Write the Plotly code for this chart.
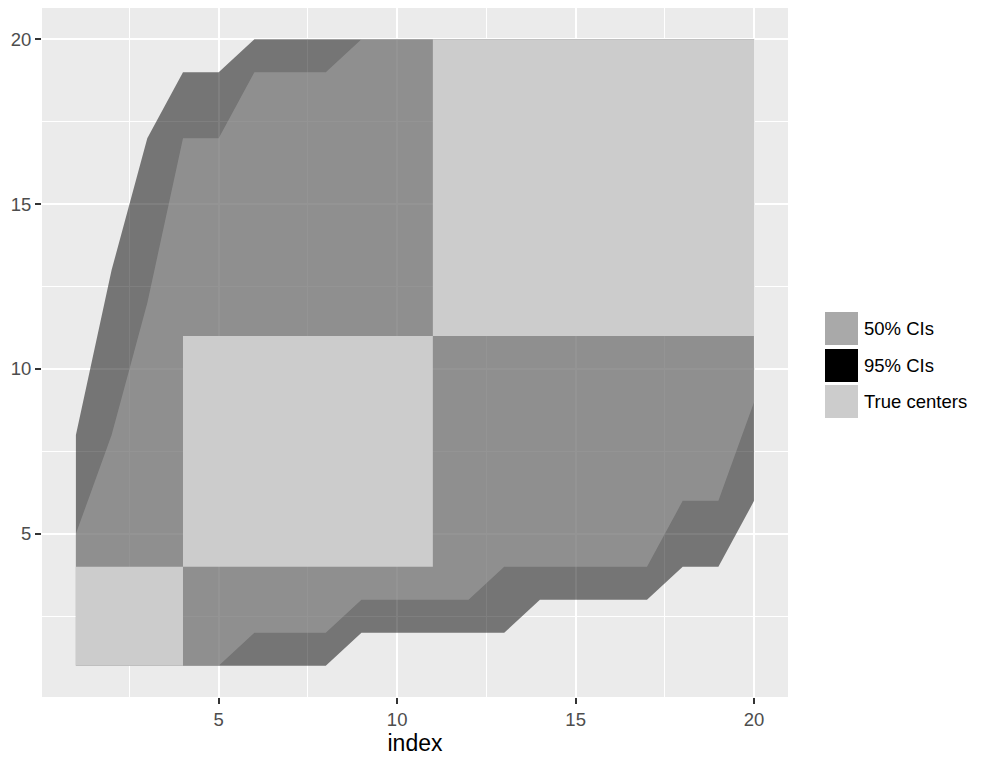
import plotly.graph_objects as go

# ---- data ----
index = list(range(1, 21))
ci95_lo = [1, 1, 1, 1, 1, 1, 1, 1, 2, 2, 2, 2, 2, 3, 3, 3, 3, 4, 4, 6]
ci95_hi = [8, 13, 17, 19, 19, 20, 20, 20, 20, 20, 20, 20, 20, 20, 20, 20, 20, 20, 20, 20]
ci50_lo = [1, 1, 1, 1, 1, 2, 2, 2, 3, 3, 3, 3, 4, 4, 4, 4, 4, 6, 6, 9]
ci50_hi = [5, 8, 12, 17, 17, 19, 19, 19, 20, 20, 20, 20, 20, 20, 20, 20, 20, 20, 20, 20]
center_x = [1, 4, 4, 11, 11, 20]
center_lo = [1, 1, 4, 4, 11, 11]
center_hi = [4, 4, 11, 11, 20, 20]

legend_labels = ["50% CIs", "95% CIs", "True centers"]
legend_colors = ["#a9a9a9", "#000000", "#cccccc"]
tick_vals = [5, 10, 15, 20]

FONT = "Liberation Sans, Arial, Helvetica, sans-serif"


def ribbon(x, lo, hi, color, name):
    xs = list(x) + list(x)[::-1]
    ys = list(hi) + list(lo)[::-1]
    return go.Scatter(x=xs, y=ys, fill="toself", fillcolor=color, mode="lines",
                      line=dict(width=0, color="rgba(0,0,0,0)"), name=name,
                      showlegend=False, hoverinfo="skip")


fig = go.Figure()
fig.add_trace(ribbon(index, ci95_lo, ci95_hi, "rgba(0,0,0,0.5)", "95% CIs"))
fig.add_trace(ribbon(index, ci50_lo, ci50_hi, "rgba(169,169,169,0.5)", "50% CIs"))
fig.add_trace(ribbon(center_x, center_lo, center_hi, "#cccccc", "True centers"))

W, H = 990, 761
ml, mr, mt, mb = 42, 202, 8, 64
pw, ph = W - ml - mr, H - mt - mb

axis_common = dict(
    range=[0.05, 20.95], tickvals=tick_vals, showgrid=True, gridcolor="white",
    gridwidth=2, zeroline=False, showline=False, ticks="outside", ticklen=6,
    tickwidth=1.5, tickcolor="#333333",
    tickfont=dict(family=FONT, size=18.5, color="#4d4d4d"),
    minor=dict(tickvals=[2.5, 7.5, 12.5, 17.5], showgrid=True, gridcolor="white",
               gridwidth=1, ticks=""),
)

fig.update_layout(
    width=W, height=H,
    margin=dict(l=ml, r=mr, t=mt, b=mb),
    paper_bgcolor="white", plot_bgcolor="#ebebeb",
    showlegend=False,
    xaxis=dict(**axis_common, title=dict(text="index", font=dict(family=FONT, size=23, color="black"), standoff=4)),
    yaxis=dict(**axis_common, title=None),
)

# custom ggplot-style legend
key_top = [312, 349, 385]
key_h = 33
for lbl, col, top in zip(legend_labels, legend_colors, key_top):
    x0 = (825 - ml) / pw
    x1 = (858 - ml) / pw
    y0 = (H - mb - (top + key_h)) / ph
    y1 = (H - mb - top) / ph
    fig.add_shape(type="rect", xref="paper", yref="paper", x0=x0, x1=x1, y0=y0, y1=y1,
                  fillcolor=col, line=dict(width=0))
    fig.add_annotation(xref="paper", yref="paper", x=(862 - ml) / pw,
                       y=(H - mb - (top + key_h / 2)) / ph, text=lbl, showarrow=False,
                       xanchor="left", yanchor="middle",
                       font=dict(family=FONT, size=18.5, color="black"))

fig.write_html("out.html")
